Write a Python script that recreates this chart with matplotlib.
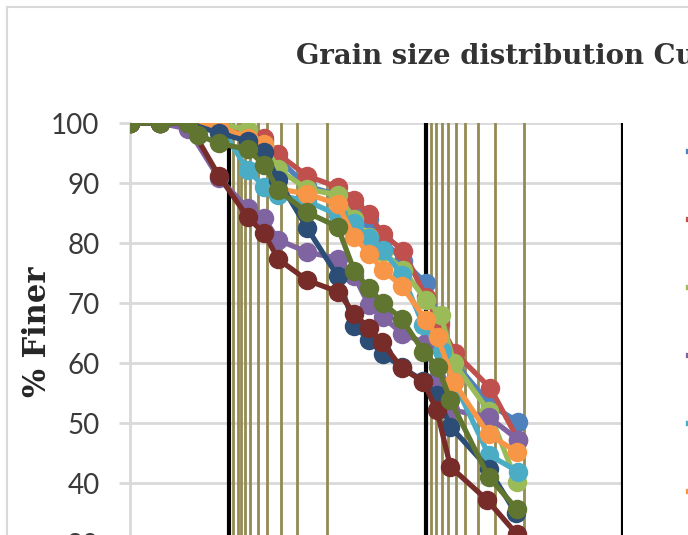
import numpy as np
import matplotlib
matplotlib.use('Agg')
import matplotlib.pyplot as plt
from matplotlib.lines import Line2D

plt.rcParams['font.family'] = ['Lato', 'DejaVu Sans']

# grain size (mm) / percent finer for each sample
names = ['Sample 1', 'Sample 2', 'Sample 3', 'Sample 4', 'Sample 5',
         'Sample 6', 'Sample 7', 'Sample 8', 'Sample 9']
colors = ['#4F81BD', '#C0504D', '#9BBB59', '#8064A2', '#4BACC6',
          '#F79646', '#2C4D75', '#772C2A', '#5F7530']

x1 = [31.5, 22.4, 16, 11.2, 8, 6.6, 5.6, 4, 2.8, 2.3, 1.95, 1.65, 1.3, 1.0, 0.85, 0.71, 0.47, 0.34]
y1 = [100, 100, 100, 99.3, 98.3, 97, 94, 89.5, 88, 86.3, 84, 80.5, 77, 73.3, 67, 60, 53, 50.2]

x2 = [31.5, 22.4, 16, 11.2, 8, 6.6, 5.6, 4, 2.8, 2.3, 1.95, 1.65, 1.3, 1.0, 0.85, 0.71, 0.47, 0.34]
y2 = [100, 100, 100, 99.5, 98.5, 97.5, 94.8, 91.2, 89.3, 87.2, 84.8, 81.5, 78.7, 71, 66.5, 61.7, 55.8, 47.2]

x3 = [31.5, 22.4, 16, 11.2, 8, 6.6, 5.6, 4, 2.8, 2.3, 1.95, 1.65, 1.3, 1.0, 0.84, 0.72, 0.48, 0.346]
y3 = [100, 100, 100, 100, 98.8, 96.3, 92.3, 89, 88, 84, 81, 78.5, 75.5, 70.5, 68, 60, 52, 40.2]

x4 = [31.5, 22.4, 16, 11.2, 8, 6.6, 5.6, 4, 2.8, 2.3, 1.95, 1.65, 1.32, 1.0, 0.88, 0.75, 0.48, 0.34]
y4 = [100, 100, 99, 90.8, 85.8, 84.1, 80.5, 78.5, 77.4, 74.5, 69.7, 67.7, 64.9, 63.3, 57.2, 52.2, 51, 47.2]

x5 = [31.5, 22.4, 16, 11.2, 8, 6.6, 5.6, 4, 2.8, 2.3, 1.95, 1.65, 1.32, 1.03, 0.83, 0.72, 0.48, 0.34]
y5 = [100, 100, 100, 99.7, 92.2, 89.4, 88, 87, 84.7, 83.3, 80.8, 78.8, 74.7, 66.3, 62, 56.9, 44.7, 41.9]

x6 = [31.5, 22.4, 16, 11.2, 8, 6.6, 5.6, 4, 2.8, 2.3, 1.94, 1.65, 1.32, 1.0, 0.87, 0.72, 0.48, 0.346]
y6 = [100, 100, 100, 99.5, 97.5, 96.5, 89, 88.2, 86.5, 81, 78.2, 75.5, 72.8, 67.2, 64.3, 56.8, 48.1, 45.2]

x7 = [31.5, 22.4, 16, 11.2, 8, 6.6, 5.6, 4, 2.8, 2.3, 1.95, 1.65, 1.32, 1.03, 0.88, 0.75, 0.48, 0.35]
y7 = [100, 100, 100, 98.3, 97, 95.2, 90.5, 82.5, 74.5, 66.2, 63.9, 61.5, 59.3, 57, 54.7, 49.4, 42.4, 35]

x8 = [31.5, 22.4, 16, 11.2, 8, 6.6, 5.6, 4, 2.8, 2.3, 1.95, 1.67, 1.32, 1.03, 0.88, 0.75, 0.49, 0.346]
y8 = [100, 100, 100, 91.2, 84.3, 81.6, 77.3, 73.8, 71.9, 68.2, 65.8, 63.5, 59.1, 56.9, 52.2, 42.7, 37.2, 31.5]

x9 = [31.5, 22.4, 16, 14.3, 11.2, 8, 6.6, 5.6, 4, 2.8, 2.3, 1.95, 1.65, 1.32, 1.03, 0.87, 0.75, 0.48, 0.346]
y9 = [100, 100, 100, 98, 96.6, 95.6, 93, 88.8, 85.1, 82.7, 75.3, 72.5, 70, 67.3, 61.9, 59.4, 53.8, 41, 35.7]

xs = [x1, x2, x3, x4, x5, x6, x7, x8, x9]
ys = [y1, y2, y3, y4, y5, y6, y7, y8, y9]

# vertical reference lines (mm)
decade_lines = [10, 1, 0.1]
sieve_lines = [9.45, 9.0, 8.7, 8.3, 7.8, 7.1, 6.35, 5.45, 4.5, 3.16,
               0.94, 0.89, 0.83, 0.775, 0.705, 0.63, 0.545, 0.445, 0.316]

fig = plt.figure(figsize=(6.88, 5.35), dpi=100)
ax = fig.add_axes([130/688, (535-723)/535, 493/688, 600/535])

ax.set_xscale('log')
ax.set_xlim(31.62, 0.1)
ax.set_ylim(0, 100)

for v in sieve_lines:
    ax.axvline(v, color='#948A54', lw=2, zorder=1)
for v in decade_lines:
    ax.axvline(v, color='black', lw=3, zorder=1.5)

lines = []
for x, y, c, n in zip(xs, ys, colors, names):
    l, = ax.plot(x, y, color=c, lw=3.8, marker='o', markersize=13, label=n, zorder=3)
    lines.append(l)

ax.set_yticks(np.arange(0, 101, 10))
ax.yaxis.grid(True, color='#D9D9D9', lw=2)
ax.set_axisbelow(True)
ax.tick_params(axis='x', which='both', bottom=False, labelbottom=False)
ax.tick_params(axis='y', direction='out', length=8, width=2, color='#D9D9D9',
               labelsize=20, labelcolor='#3A3A3A', pad=14)
for s in ['top', 'right', 'bottom']:
    ax.spines[s].set_visible(False)
ax.spines['left'].set_color('#D9D9D9')
ax.spines['left'].set_linewidth(2)

fig.text(38/688, (535-332)/535, '% Finer', family=['DejaVu Serif'], fontweight='bold',
         fontsize=22, color='#262626', rotation=90, ha='center', va='center')

fig.text(296/688, 1-56/535, 'Grain size distribution Curves',
         family=['DejaVu Serif'], fontweight='bold',
         fontsize=19.8, color='#333333', ha='left', va='center')

fig.legend(handles=lines, labels=names, loc='upper left',
           bbox_to_anchor=(687.8/688, 1-144/535), frameon=False,
           borderpad=0, borderaxespad=0, labelspacing=2.62, fontsize=14,
           handlelength=2.5)

# outer chart border
fig.add_artist(Line2D([7/688, 1], [1-7/535, 1-7/535], transform=fig.transFigure,
                      color='#D9D9D9', lw=1.5))
fig.add_artist(Line2D([7/688, 7/688], [0, 1-7/535], transform=fig.transFigure,
                      color='#D9D9D9', lw=1.5))

fig.savefig('out.png', dpi=100)
